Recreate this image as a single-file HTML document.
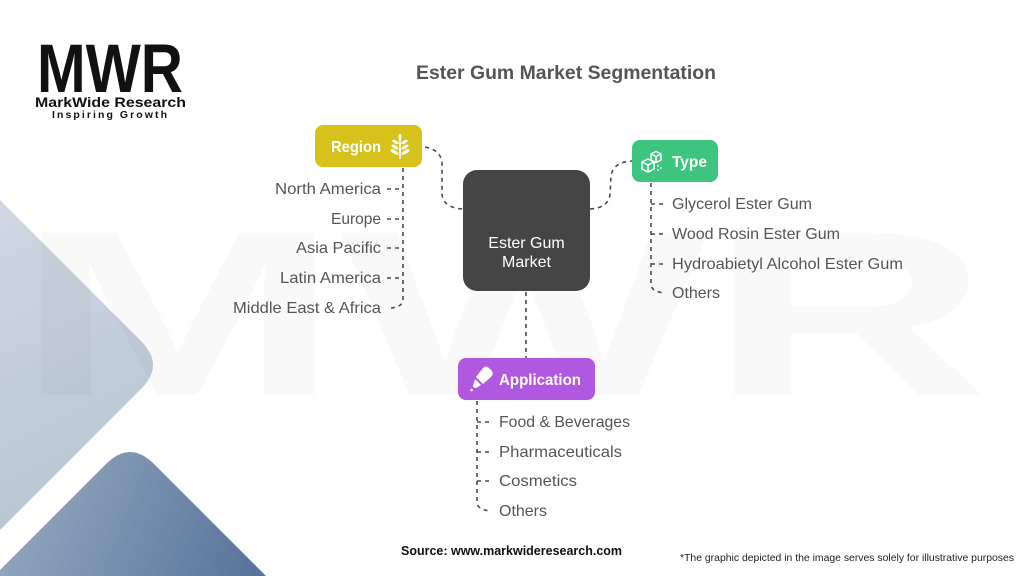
<!DOCTYPE html>
<html>
<head>
<meta charset="utf-8">
<style>
  html,body{margin:0;padding:0;background:#fff;width:1024px;height:576px;overflow:hidden;}
  body{position:relative;}
  svg{position:absolute;left:0;top:0;overflow:hidden;display:block;}
  text{font-family:"Liberation Sans",sans-serif;}
</style>
</head>
<body>
<svg width="1024" height="576" viewBox="0 0 1024 576" xmlns="http://www.w3.org/2000/svg">
  <defs>
    <linearGradient id="gLight" gradientUnits="userSpaceOnUse" x1="0" y1="200" x2="160" y2="530">
      <stop offset="0" stop-color="#cfd8e2"/>
      <stop offset="1" stop-color="#b4c2d1"/>
    </linearGradient>
    <linearGradient id="gDark" gradientUnits="userSpaceOnUse" x1="20" y1="480" x2="260" y2="576">
      <stop offset="0" stop-color="#93a7bf"/>
      <stop offset="1" stop-color="#56739a"/>
    </linearGradient>
  </defs>

  <!-- background shapes -->
  <path d="M0,200 L141,341 Q165,365 141,389 L0,530 Z" fill="url(#gLight)"/>
  <path d="M0,570 L106,464 Q130,440 154,464 L266,576 L0,576 Z" fill="url(#gDark)"/>

  <!-- watermark -->
  <text x="15" y="395" font-size="236" font-weight="bold" fill="#000" fill-opacity="0.022" textLength="975" lengthAdjust="spacingAndGlyphs">MWR</text>

  <!-- logo -->
  <text x="37" y="92" font-size="69" font-weight="bold" fill="#111" textLength="146" lengthAdjust="spacingAndGlyphs">MWR</text>
  <text x="35" y="107" font-size="14" font-weight="bold" fill="#111" textLength="151" lengthAdjust="spacingAndGlyphs">MarkWide Research</text>
  <text x="52" y="118" font-size="10.5" font-weight="bold" fill="#111" textLength="115" lengthAdjust="spacing">Inspiring Growth</text>

  <!-- title -->
  <text x="416" y="79" font-size="19" font-weight="bold" fill="#555" textLength="300" lengthAdjust="spacingAndGlyphs">Ester Gum Market Segmentation</text>

  <!-- connectors -->
  <g fill="none" stroke="#4a4a4a" stroke-width="1.6" stroke-dasharray="4 4">
    <path d="M425,147 Q441,150 442,163 L442,195 Q444,208 463,209"/>
    <path d="M590,209 Q608,208 610,195 L611,176 Q613,162 632,161"/>
    <path d="M526,292 L526,358"/>
    <!-- region list -->
    <path d="M403,168 L403,299 Q403,307 391,308"/>
    <path d="M387,189 L403,189"/>
    <path d="M387,219 L403,219"/>
    <path d="M387,248 L403,248"/>
    <path d="M387,278 L403,278"/>
    <!-- type list -->
    <path d="M651,183 L651,285 Q652,292 665,293"/>
    <path d="M651,204 L666,204"/>
    <path d="M651,234 L666,234"/>
    <path d="M651,264 L666,264"/>
    <!-- app list -->
    <path d="M477,401 L477,503 Q478,510 491,511"/>
    <path d="M477,422 L492,422"/>
    <path d="M477,452 L492,452"/>
    <path d="M477,481 L492,481"/>
  </g>

  <!-- central box -->
  <rect x="463" y="170" width="127" height="121" rx="14" fill="#454545"/>
  <text x="526.5" y="248" font-size="16" fill="#fff" text-anchor="middle">Ester Gum</text>
  <text x="526.5" y="267" font-size="16" fill="#fff" text-anchor="middle">Market</text>

  <!-- Region box -->
  <rect x="315" y="125" width="107" height="42" rx="8" fill="#d6c21b"/>
  <text x="331" y="152" font-size="16" font-weight="bold" fill="#fff" textLength="50" lengthAdjust="spacingAndGlyphs">Region</text>
  <g fill="#fff" stroke="#fff">
    <line x1="400" y1="136" x2="400" y2="159" stroke-width="1.6"/>
    <ellipse cx="400" cy="137" rx="1.6" ry="3" stroke="none"/>
    <ellipse cx="395.5" cy="142" rx="3.5" ry="1.6" transform="rotate(30 395.5 142)" stroke="none"/>
    <ellipse cx="404.5" cy="142" rx="3.5" ry="1.6" transform="rotate(-30 404.5 142)" stroke="none"/>
    <ellipse cx="395" cy="147" rx="4" ry="1.7" transform="rotate(30 395 147)" stroke="none"/>
    <ellipse cx="405" cy="147" rx="4" ry="1.7" transform="rotate(-30 405 147)" stroke="none"/>
    <ellipse cx="394.5" cy="152" rx="4.5" ry="1.8" transform="rotate(30 394.5 152)" stroke="none"/>
    <ellipse cx="405.5" cy="152" rx="4.5" ry="1.8" transform="rotate(-30 405.5 152)" stroke="none"/>
  </g>

  <!-- Type box -->
  <rect x="632" y="140" width="86" height="42" rx="8" fill="#3dc47e"/>
  <g fill="none" stroke="#fff" stroke-width="1.5">
    <path d="M642,162 l6,-3 l6,3 l0,7 l-6,3 l-6,-3 z M642,162 l6,3 l6,-3 M648,165 l0,7"/>
    <path d="M651,154 l5,-2.5 l5,2.5 l0,6 l-5,2.5 l-5,-2.5 z M651,154 l5,2.5 l5,-2.5 M656,156.5 l0,6"/>
  </g>
  <g fill="#fff"><circle cx="658" cy="166" r="0.9"/><circle cx="661" cy="168" r="0.9"/><circle cx="658" cy="170" r="0.9"/></g>
  <text x="672" y="167" font-size="16" font-weight="bold" fill="#fff" textLength="35" lengthAdjust="spacingAndGlyphs">Type</text>

  <!-- Application box -->
  <rect x="458" y="358" width="137" height="42" rx="8" fill="#b158e0"/>
  <g fill="#fff">
    <path d="M476,377 L483,368 Q486,365 489,368 L492,371 Q494,374 491,377 L483,384 Z"/>
    <path d="M475,379 L481,385 L476,388 Q473,388 473,386 Z"/>
    <circle cx="471.5" cy="390" r="1.3"/>
  </g>
  <text x="499" y="385" font-size="16" font-weight="bold" fill="#fff" textLength="82" lengthAdjust="spacingAndGlyphs">Application</text>

  <!-- Region list -->
  <g font-size="16" fill="#555">
    <text x="275" y="194" textLength="106" lengthAdjust="spacingAndGlyphs">North America</text>
    <text x="331" y="224" textLength="50" lengthAdjust="spacingAndGlyphs">Europe</text>
    <text x="296" y="253" textLength="85" lengthAdjust="spacingAndGlyphs">Asia Pacific</text>
    <text x="280" y="283" textLength="101" lengthAdjust="spacingAndGlyphs">Latin America</text>
    <text x="233" y="313" textLength="148" lengthAdjust="spacingAndGlyphs">Middle East &amp; Africa</text>
  </g>

  <!-- Type list -->
  <g font-size="16" fill="#555">
    <text x="672" y="209" textLength="140" lengthAdjust="spacingAndGlyphs">Glycerol Ester Gum</text>
    <text x="672" y="239" textLength="168" lengthAdjust="spacingAndGlyphs">Wood Rosin Ester Gum</text>
    <text x="672" y="269" textLength="231" lengthAdjust="spacingAndGlyphs">Hydroabietyl Alcohol Ester Gum</text>
    <text x="672" y="298" textLength="48" lengthAdjust="spacingAndGlyphs">Others</text>
  </g>

  <!-- App list -->
  <g font-size="16" fill="#555">
    <text x="499" y="427" textLength="131" lengthAdjust="spacingAndGlyphs">Food &amp; Beverages</text>
    <text x="499" y="457" textLength="123" lengthAdjust="spacingAndGlyphs">Pharmaceuticals</text>
    <text x="499" y="486" textLength="78" lengthAdjust="spacingAndGlyphs">Cosmetics</text>
    <text x="499" y="516" textLength="48" lengthAdjust="spacingAndGlyphs">Others</text>
  </g>

  <!-- footer -->
  <text x="401" y="555" font-size="12.5" font-weight="bold" fill="#111" textLength="221" lengthAdjust="spacingAndGlyphs">Source: www.markwideresearch.com</text>
  <text x="680" y="561" font-size="10" fill="#222" textLength="334" lengthAdjust="spacingAndGlyphs">*The graphic depicted in the image serves solely for illustrative purposes</text>
</svg>
</body>
</html>
